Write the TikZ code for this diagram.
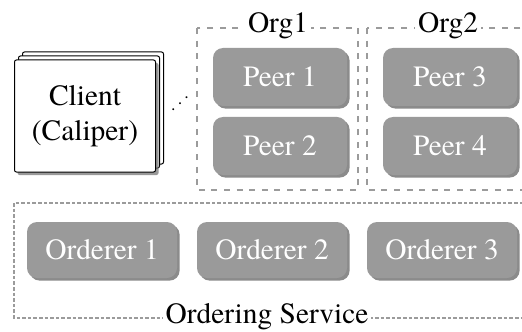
\documentclass[tikz,border=0pt]{standalone}
\usepackage{fontspec}
\setmainfont{texgyretermes}[Extension=.otf, UprightFont=*-regular, BoldFont=*-bold]
\usepackage{tikz}
\usetikzlibrary{positioning, shadows}
\definecolor{nodegray}{RGB}{154, 154, 154}
\definecolor{shadowgray}{RGB}{110, 110, 110}
\definecolor{dashgray}{RGB}{155, 155, 155}

\begin{document}
\begin{tikzpicture}[x=0.5pt, y=-0.5pt,
    every node/.style={font=\fontsize{14.7}{17.5}\selectfont},
    graybox/.style={fill=nodegray, text=white, rounded corners=5pt, inner sep=0pt,
        drop shadow={shadow xshift=1.3pt, shadow yshift=-1.3pt, fill=shadowgray, opacity=0.8}},
    peer/.style={graybox, minimum width=67pt, minimum height=29pt},
    orderer/.style={graybox, minimum width=75pt, minimum height=28pt},
    group/.style={draw=dashgray, line width=1.1pt, dash pattern=on 3pt off 3.3pt},
    service/.style={draw=dashgray, line width=1.1pt, dash pattern=on 1.8pt off 1pt},
    grouplabel/.style={fill=white, inner sep=1.5pt, anchor=base}]
    \clip (0,0) rectangle (522,331);

    % client with its stacked copies
    \node[double copy shadow={shadow xshift=2pt, shadow yshift=2pt},
          drop shadow={shadow xshift=1.5pt, shadow yshift=-1.5pt, fill=shadowgray, opacity=0.7},
          draw, fill=white, line width=0.5pt, rounded corners=1pt, align=center,
          minimum width=70.5pt, minimum height=56pt] (client) at (85,116) {Client\\(Caliper)};
    \node (dots) at (180,98) {\fontsize{9}{9}\selectfont\reflectbox{$\ddots$}};

    % organisations
    \draw[group] (197,28) rectangle (358,190);
    \draw[group] (367,28) rectangle (540,190);
    \node[grouplabel] (org1) at (278,33) {Org1};
    \node[grouplabel] (org2) at (448,33) {Org2};

    \node[peer] (peer1) at (280,77) {Peer 1};
    \node[peer] (peer2) at (280,146) {Peer 2};
    \node[peer] (peer3) at (450,77) {Peer 3};
    \node[peer] (peer4) at (450,146) {Peer 4};

    % ordering service
    \draw[service] (14,203) rectangle (540,318);
    \node[grouplabel] (ordering) at (267,323) {Ordering Service};

    \node[orderer] (ord1) at (102,250) {Orderer 1};
    \node[orderer] (ord2) at (272,250) {Orderer 2};
    \node[orderer] (ord3) at (442,250) {Orderer 3};
\end{tikzpicture}
\end{document}
